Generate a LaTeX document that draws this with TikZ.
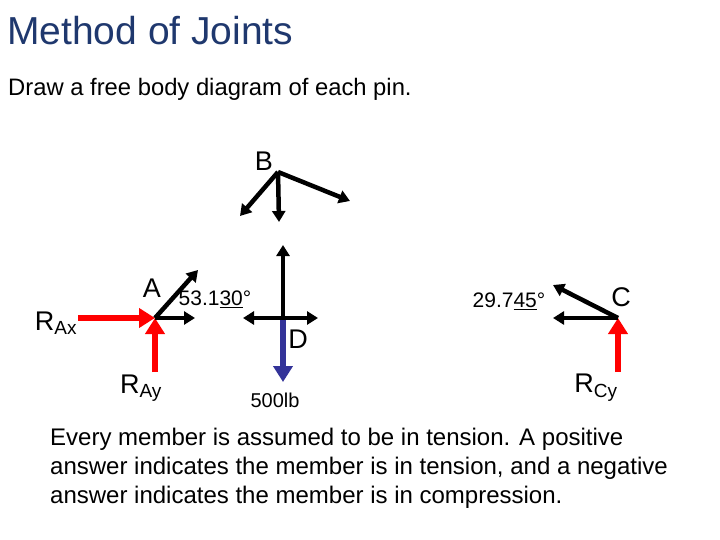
\documentclass[tikz,border=0pt]{standalone}
\usepackage{fontspec}
\setmainfont{Liberation Sans}
\usetikzlibrary{arrows.meta}
\definecolor{titleblue}{RGB}{31,56,110}
\definecolor{fred}{RGB}{255,0,0}
\definecolor{fblue}{RGB}{51,51,153}
\tikzset{
 force/.style={line width=4.5pt,-{Triangle[length=11pt,width=13pt]}},
 react/.style={force,draw=fred,line width=6.5pt,-{Triangle[length=16pt,width=19pt]}},
 lbl/.style={inner sep=0pt,font=\fontsize{27}{30}\selectfont},
}
\begin{document}
\begin{tikzpicture}[x=1pt,y=-1pt]
\useasboundingbox (0,0) rectangle (720,540);
\node[anchor=west,inner sep=0pt,text=titleblue,font=\fontsize{39}{42}\selectfont] (title) at (7,31) {Method of Joints};
\node[anchor=west,inner sep=0pt,font=\fontsize{23.8}{26}\selectfont] (intro) at (8,89) {Draw a free body diagram of each pin.};
% B
\coordinate (B) at (278,172);
\coordinate (B1) at (240,216); \coordinate (B2) at (279,222); \coordinate (B3) at (350,201);
\draw[force] (B) -- (B1); \draw[force] (B) -- (B2); \draw[force] (B) -- (B3);
\node[lbl] (Bl) at (264,161) {B};
% A
\coordinate (A) at (155,318);
\coordinate (A1) at (198,270); \coordinate (A2) at (195,318);
\coordinate (Ax) at (78,318); \coordinate (Ay) at (155,372);
\draw[react] (Ax) -- (A); \draw[react] (Ay) -- (A);
\draw[force] (A) -- (A1); \draw[force] (A) -- (A2);
\node[lbl] (Al) at (152,288) {A};
\node[lbl] (RAx) at (56,323) {R\textsubscript{\fontsize{19}{20}\selectfont Ax}};
\node[lbl] (RAy) at (141,388) {R\textsubscript{\fontsize{19}{20}\selectfont Ay}};
\node[inner sep=0pt,font=\fontsize{21}{23}\selectfont] (ang1) at (215,299) {53.1\underline{30}°};
% D
\coordinate (D) at (283,318);
\coordinate (Du) at (283,245); \coordinate (Dl) at (243,318); \coordinate (Dr) at (318,318);
\coordinate (Dd) at (283,382);
\draw[force,draw=fblue,line width=6.5pt,-{Triangle[length=16pt,width=19pt]}] (D) -- (Dd);
\draw[force] (D) -- (Du); \draw[force] (D) -- (Dl); \draw[force] (D) -- (Dr);
\node[lbl] (Dlab) at (298,339) {D};
\node[inner sep=0pt,font=\fontsize{20}{22}\selectfont] (load) at (275,400) {500lb};
% C
\coordinate (C) at (618,318);
\coordinate (C1) at (553,285); \coordinate (C2) at (553,318); \coordinate (Cy) at (618,372);
\draw[react] (Cy) -- (C);
\draw[force] (C) -- (C1); \draw[force] (C) -- (C2);
\node[lbl] (Cl) at (621,297) {C};
\node[lbl] (RCy) at (596,388) {R\textsubscript{\fontsize{19}{20}\selectfont Cy}};
\node[inner sep=0pt,font=\fontsize{21}{23}\selectfont] (ang2) at (509,301) {29.7\underline{45}°};
% text
\node[anchor=north west,inner sep=0pt,align=left,font=\fontsize{24}{29}\selectfont] (note) at (50,428) {Every member is assumed to be in tension. A positive\\answer indicates the member is in tension, and a negative\\answer indicates the member is in compression.};
\end{tikzpicture}
\end{document}
